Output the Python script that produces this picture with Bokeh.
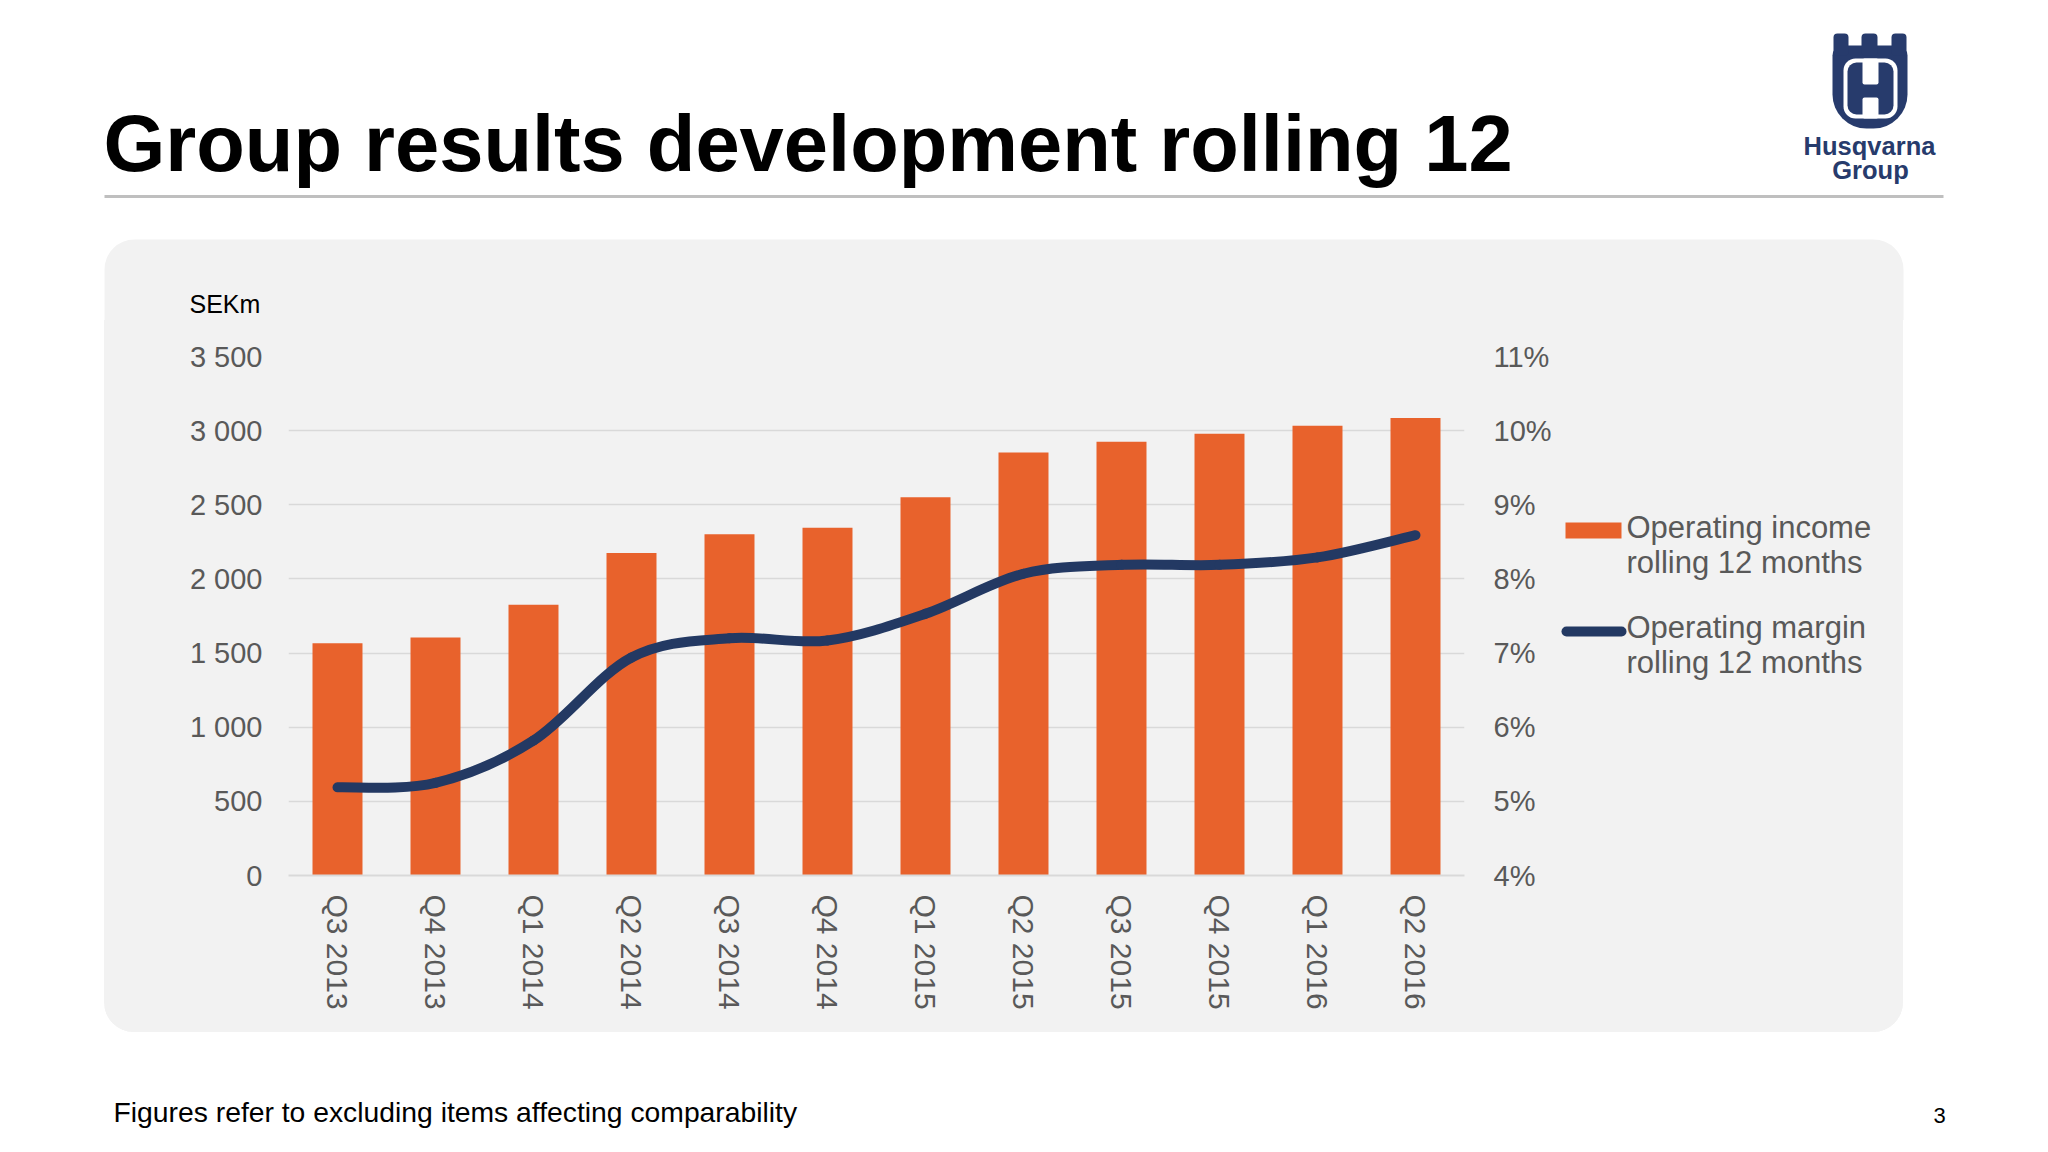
import numpy as np
from bokeh.plotting import figure
from bokeh.layouts import row, column
from bokeh.models import Range1d, LinearAxis, FixedTicker, Spacer
from bokeh.core.properties import value
from bokeh.embed import file_html
from bokeh.resources import INLINE

# ---------------- data ----------------
quarters = ["Q3 2013", "Q4 2013", "Q1 2014", "Q2 2014", "Q3 2014", "Q4 2014",
            "Q1 2015", "Q2 2015", "Q3 2015", "Q4 2015", "Q1 2016", "Q2 2016"]
operating_income = [1567, 1605, 1826, 2175, 2302, 2345, 2550, 2853, 2925, 2979, 3033, 3085]
operating_margin = [5.19, 5.25, 5.82, 6.94, 7.20, 7.17, 7.53, 8.07, 8.19, 8.19, 8.29, 8.59]
income_ticks = [0, 500, 1000, 1500, 2000, 2500, 3000, 3500]
income_tick_labels = ["0", "500", "1 000", "1 500", "2 000", "2 500", "3 000", "3 500"]
margin_ticks = [4, 5, 6, 7, 8, 9, 10, 11]
margin_tick_labels = ["4%", "5%", "6%", "7%", "8%", "9%", "10%", "11%"]
legend_labels = [["Operating income", "rolling 12 months"],
                 ["Operating margin", "rolling 12 months"]]

# ---------------- style constants ----------------
FONT = "Liberation Sans"
ORANGE = "#E8622C"
NAVY = "#233963"
LOGO = "#273B6C"
PANEL = "#F2F2F2"
GRAY_TXT = "#595959"
GRID = "#D9D9D9"
BASE_K = 0.34        # baseline compensation (fraction of font size)

W, H = 2048, 1152
TOP_H = 320          # title strip: page y 0..320
MID_H = 712          # chart strip: page y 320..1032 (panel bottom)
BOT_H = H - TOP_H - MID_H
C_LEFT, C_RIGHT = 104, 1554      # chart figure in page x
L_RIGHT = 1903                   # legend figure: 1554..1903
FRAME_L, FRAME_R, FRAME_T, FRAME_B = 288, 1464, 356, 875


def blank_fig(width, height, x0, x1, ytop, ybot, bg="white", bt=0, bb=0):
    f = figure(width=width, height=height, output_backend="svg", toolbar_location=None,
               x_range=Range1d(x0, x1), y_range=Range1d(ybot, ytop),
               x_axis_type=None, y_axis_type=None, title=None,
               min_border=0, min_border_left=0, min_border_right=0,
               min_border_top=bt, min_border_bottom=bb)
    f.grid.visible = False
    f.outline_line_color = None
    f.background_fill_color = bg
    f.border_fill_color = bg
    return f


def txt(f, x, y, s, size, color="black", style="normal", align="left"):
    px = float(size.replace("px", ""))
    f.text(x=[x], y=[y - BASE_K * px], text=[s], text_font=value(FONT),
           text_font_size=value(size), text_color=color, text_font_style=value(style),
           text_align=align, text_baseline="alphabetic")


# ---------------- top strip: title, rule, logo, panel top ----------------
top = blank_fig(W, TOP_H, 0, W, 0, TOP_H)
top.quad(left=[104], right=[1903], top=[239], bottom=[420], fill_color=PANEL,
         line_color=None, border_radius=30)
txt(top, 103, 170, "Group results development rolling 12", "79.5px", "black", "bold")
top.quad(left=[104], right=[1943], top=[194.5], bottom=[197.5], fill_color="#BFBFBF",
         line_color=None)
txt(top, 189, 312, "SEKm", "25px", "black")
# logo: crowned shield with an H
top.quad(left=[1832], right=[1907], top=[45], bottom=[128], fill_color=LOGO,
         line_color=None, border_radius=(10, 10, 34, 34))
top.quad(left=[1833, 1861, 1891], right=[1848, 1877, 1906], top=[33, 33, 33],
         bottom=[55, 55, 55], fill_color=LOGO, line_color=None, border_radius=4)
top.quad(left=[1843], right=[1897], top=[58], bottom=[118], fill_color="white",
         line_color=None, border_radius=12)
top.quad(left=[1847], right=[1893], top=[62], bottom=[114], fill_color=LOGO,
         line_color=None, border_radius=9)
top.quad(left=[1862, 1862], right=[1878, 1878], top=[58, 97], bottom=[84, 118],
         fill_color="white", line_color=None, border_radius=2)
txt(top, 1869, 154, "Husqvarna", "25.5px", LOGO, "bold", "center")
txt(top, 1870, 178, "Group", "25.5px", LOGO, "bold", "center")

# ---------------- chart ----------------
xs = np.arange(len(quarters)) + 0.5
C_W = C_RIGHT - C_LEFT
p = figure(width=C_W, height=MID_H, output_backend="svg", toolbar_location=None,
           title=None, x_range=Range1d(0, len(quarters)), y_range=Range1d(0, 3500),
           min_border_left=FRAME_L - C_LEFT, min_border_right=C_RIGHT - FRAME_R,
           min_border_top=FRAME_T - TOP_H, min_border_bottom=TOP_H + MID_H - FRAME_B)
p.extra_y_ranges = {"pct": Range1d(4, 11)}
p.background_fill_color = PANEL
p.border_fill_color = PANEL
p.outline_line_color = None

p.xaxis.ticker = FixedTicker(ticks=list(xs))
p.xaxis.major_label_overrides = {float(x): q for x, q in zip(xs, quarters)}
p.xaxis.major_label_orientation = "vertical"
p.xaxis.axis_line_color = GRID
p.xaxis.axis_line_width = 2
p.xaxis.major_tick_line_color = None
p.xaxis.minor_tick_line_color = None
p.xaxis.major_label_standoff = 13

p.yaxis.ticker = FixedTicker(ticks=income_ticks)
p.yaxis.major_label_overrides = {t: l for t, l in zip(income_ticks, income_tick_labels)}
p.yaxis.axis_line_color = None
p.yaxis.major_tick_line_color = None
p.yaxis.minor_tick_line_color = None
p.yaxis.major_label_standoff = 20

ax_r = LinearAxis(y_range_name="pct", ticker=FixedTicker(ticks=margin_ticks))
ax_r.major_label_overrides = {t: l for t, l in zip(margin_ticks, margin_tick_labels)}
ax_r.axis_line_color = None
ax_r.major_tick_line_color = None
ax_r.minor_tick_line_color = None
ax_r.major_label_standoff = 23
p.add_layout(ax_r, "right")

for ax in [p.xaxis[0], p.yaxis[0], ax_r]:
    ax.major_label_text_font = FONT
    ax.major_label_text_color = GRAY_TXT
p.yaxis.major_label_text_font_size = "29px"
ax_r.major_label_text_font_size = "29px"
p.xaxis.major_label_text_font_size = "30px"

p.xgrid.grid_line_color = None
p.ygrid.grid_line_color = GRID
p.ygrid.grid_line_width = 1.5

bars = p.vbar(x=xs, top=operating_income, bottom=0, width=0.51,
              fill_color=ORANGE, line_color=None)

# smoothed margin line: bezier segments through the data points
m = np.array(operating_margin, dtype=float)
n = len(m)
x0, y0, x1, y1, cx0, cy0, cx1, cy1 = [], [], [], [], [], [], [], []
for i in range(n - 1):
    a = max(i - 1, 0)
    d = min(i + 2, n - 1)
    x0.append(xs[i]); y0.append(m[i])
    x1.append(xs[i + 1]); y1.append(m[i + 1])
    cx0.append(xs[i] + (xs[i + 1] - xs[a]) / 6.0)
    cy0.append(m[i] + (m[i + 1] - m[a]) / 6.0)
    cx1.append(xs[i + 1] - (xs[d] - xs[i]) / 6.0)
    cy1.append(m[i + 1] - (m[d] - m[i]) / 6.0)
p.bezier(x0=x0, y0=y0, x1=x1, y1=y1, cx0=cx0, cy0=cy0, cx1=cx1, cy1=cy1,
         y_range_name="pct", line_color=NAVY, line_width=10, line_cap="round")

# ---------------- legend strip (frame aligned with the chart frame) ----------------
leg = blank_fig(L_RIGHT - C_RIGHT, MID_H, C_RIGHT, L_RIGHT, FRAME_T, FRAME_B, PANEL,
                bt=FRAME_T - TOP_H, bb=TOP_H + MID_H - FRAME_B)
leg.quad(left=[1565], right=[1621], top=[522], bottom=[538], fill_color=ORANGE,
         line_color=None)
leg.segment(x0=[1566], y0=[631], x1=[1621], y1=[631], line_color=NAVY,
            line_width=10, line_cap="round")
for (l1, l2), yb in zip(legend_labels, [538, 638]):
    txt(leg, 1626, yb, l1, "31px", GRAY_TXT)
    txt(leg, 1626, yb + 35, l2, "31px", GRAY_TXT)

# ---------------- bottom strip ----------------
bot = blank_fig(W, BOT_H, 0, W, TOP_H + MID_H, H)
txt(bot, 113, 1121, "Figures refer to excluding items affecting comparability", "28.3px")
txt(bot, 1933, 1122, "3", "22px")

panel_row = row(p, leg, styles={"background-color": PANEL, "overflow": "hidden",
                                "border-radius": "0px 0px 30px 30px"})
middle = row(Spacer(width=C_LEFT, height=MID_H, styles={"background-color": "white"}),
             panel_row,
             Spacer(width=W - L_RIGHT, height=MID_H, styles={"background-color": "white"}))
layout = column(top, middle, bot)

open("out.html", "w").write(file_html(layout, INLINE))
